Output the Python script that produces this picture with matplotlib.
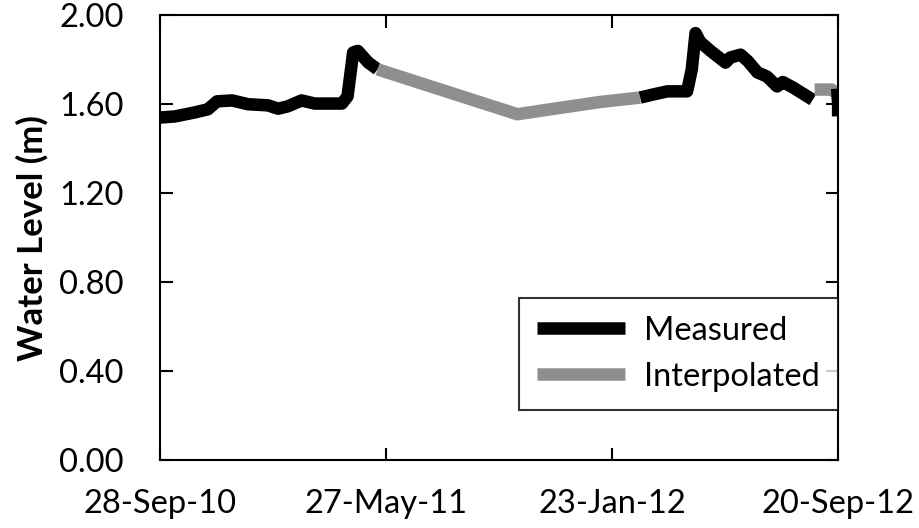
import matplotlib
matplotlib.use("Agg")
import matplotlib.pyplot as plt
import matplotlib.dates as mdates
import pandas as pd

plt.rcParams["font.family"] = ["Lato", "DejaVu Sans"]

# measured, first stretch
meas1_dates = ["2010-09-28", "2010-10-14", "2010-11-04", "2010-11-18", "2010-11-28",
               "2010-12-14", "2010-12-31", "2011-01-21", "2011-02-01", "2011-02-11",
               "2011-02-26", "2011-03-12", "2011-04-10", "2011-04-16", "2011-04-22",
               "2011-04-27", "2011-05-08", "2011-05-18"]
meas1_level = [1.540, 1.545, 1.563, 1.577, 1.613, 1.617, 1.600, 1.595, 1.580, 1.590,
               1.617, 1.603, 1.603, 1.635, 1.833, 1.840, 1.788, 1.757]

# interpolated gap
interp1_dates = ["2011-05-18", "2011-10-14", "2011-11-18", "2012-01-10", "2012-02-22"]
interp1_level = [1.757, 1.555, 1.577, 1.610, 1.630]

# measured, second stretch
meas2_dates = ["2012-02-22", "2012-03-07", "2012-03-22", "2012-04-12", "2012-04-17",
               "2012-04-21", "2012-04-26", "2012-05-07", "2012-05-23", "2012-05-28",
               "2012-06-08", "2012-06-16", "2012-06-26", "2012-07-06", "2012-07-17",
               "2012-07-23", "2012-08-03", "2012-08-24"]
meas2_level = [1.630, 1.644, 1.658, 1.658, 1.757, 1.920, 1.880, 1.840, 1.787, 1.810,
               1.823, 1.793, 1.743, 1.725, 1.680, 1.700, 1.675, 1.620]

interp2_dates = ["2012-08-26", "2012-09-13", "2012-09-18"]
interp2_level = [1.666, 1.666, 1.650]

meas3_dates = ["2012-09-19", "2012-09-20", "2012-09-20"]
meas3_level = [1.670, 1.600, 1.545]

tick_dates = ["2010-09-28", "2011-05-27", "2012-01-23", "2012-09-20"]
y_ticks = [0.0, 0.4, 0.8, 1.2, 1.6, 2.0]

BLACK = "#000000"
GRAY = "#8f8f8f"

fig = plt.figure(figsize=(9.19, 5.28), dpi=100)
ax = fig.add_axes([0.174, 0.129, 0.738, 0.842])

lw = 9
kw = dict(solid_joinstyle="round", solid_capstyle="butt")
ax.plot(pd.to_datetime(meas1_dates), meas1_level, color=BLACK, lw=lw, label="Measured", **kw)
ax.plot(pd.to_datetime(interp1_dates), interp1_level, color=GRAY, lw=lw, label="Interpolated", **kw)
ax.plot(pd.to_datetime(meas2_dates), meas2_level, color=BLACK, lw=lw, **kw)
ax.plot(pd.to_datetime(interp2_dates), interp2_level, color=GRAY, lw=lw, **kw)
ax.plot(pd.to_datetime(meas3_dates), meas3_level, color=BLACK, lw=lw, **kw)

ticks = pd.to_datetime(tick_dates)
ax.set_xlim(ticks[0], ticks[-1])
ax.set_xticks(ticks)
ax.xaxis.set_major_formatter(mdates.DateFormatter("%d-%b-%y"))
ax.set_ylim(0, 2.0)
ax.set_yticks(y_ticks)
ax.set_yticklabels([f"{v:.2f}" for v in y_ticks])

ax.tick_params(direction="in", length=9, width=1.5, labelsize=23.5,
               top=True, right=True)
ax.tick_params(axis="y", pad=26)
ax.tick_params(axis="x", pad=21)
for s in ax.spines.values():
    s.set_linewidth(1.5)

ax.set_ylabel("Water Level (m)", fontsize=25, fontweight="bold", labelpad=8)

leg = ax.legend(loc="lower right", bbox_to_anchor=(1.0, 0.1125), borderaxespad=0,
                fontsize=23.5, frameon=True, fancybox=False, edgecolor="black",
                handlelength=2.7, handletextpad=0.6, borderpad=0.55,
                labelspacing=0.5)
leg.get_frame().set_linewidth(1.5)

fig.savefig("out.png", dpi=100)
